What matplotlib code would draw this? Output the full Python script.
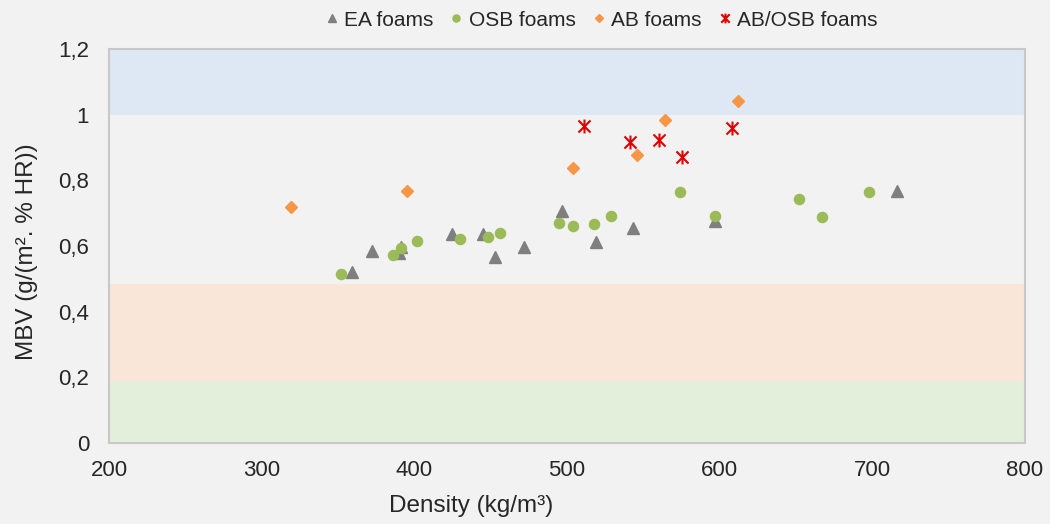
import matplotlib
matplotlib.use("Agg")
import matplotlib.pyplot as plt
from matplotlib.path import Path

# ---- data ----
ea_x = [359, 372, 390, 391, 424.5, 445, 453, 472, 497, 519, 543, 597, 716]
ea_y = [0.521, 0.585, 0.578, 0.598, 0.636, 0.636, 0.565, 0.598, 0.707, 0.611, 0.654, 0.677, 0.769]

osb_x = [352, 386, 391, 402, 430, 448, 456, 495, 504, 518, 529, 574, 597, 652, 667, 698]
osb_y = [0.514, 0.573, 0.593, 0.616, 0.620, 0.628, 0.641, 0.670, 0.661, 0.667, 0.692, 0.765, 0.690, 0.743, 0.687, 0.765]

ab_x = [319, 395, 504, 546, 564, 612]
ab_y = [0.718, 0.769, 0.837, 0.876, 0.983, 1.042]

abosb_x = [511, 541, 560, 575, 608]
abosb_y = [0.965, 0.918, 0.924, 0.872, 0.960]

series_labels = ["EA foams", "OSB foams", "AB foams", "AB/OSB foams"]
x_ticks = [200, 300, 400, 500, 600, 700, 800]
y_ticks = [0, 0.2, 0.4, 0.6, 0.8, 1.0, 1.2]
y_tick_labels = ["0", "0,2", "0,4", "0,6", "0,8", "1", "1,2"]
bands = [(0.0, 0.19, "#e3eedb"), (0.19, 0.485, "#fae5d9"), (1.0, 1.2, "#dde8f4")]

# ---- figure ----
plt.rcParams['font.family'] = ['Liberation Sans', 'DejaVu Sans']
bg = "#f2f2f2"
txt = "#262626"
fig = plt.figure(figsize=(10.5, 5.24), dpi=100, facecolor=bg)
ax = fig.add_axes([109/1050, 1 - 443/524, (1025-109)/1050, (443-49)/524])
ax.set_facecolor(bg)

for lo, hi, c in bands:
    ax.axhspan(lo, hi, color=c, lw=0, zorder=0)

star = Path([(-1, -1), (1, 1), (-1, 1), (1, -1), (0, -1.15), (0, 1.15)],
            [Path.MOVETO, Path.LINETO, Path.MOVETO, Path.LINETO, Path.MOVETO, Path.LINETO])

h1, = ax.plot(ea_x, ea_y, ls='none', marker='^', ms=9, color='#7f7f7f', mec='#7f7f7f', label=series_labels[0], zorder=3)
h2, = ax.plot(osb_x, osb_y, ls='none', marker='o', ms=7.3, color='#9bbb59', mec='#9bbb59', label=series_labels[1], zorder=4)
h3, = ax.plot(ab_x, ab_y, ls='none', marker='D', ms=6.5, color='#f79646', mec='#f79646', label=series_labels[2], zorder=3)
h4, = ax.plot(abosb_x, abosb_y, ls='none', marker=star, ms=10, mfc='none', mec='#e00000', mew=1.5, label=series_labels[3], zorder=3)

ax.set_xlim(200, 800)
ax.set_ylim(0, 1.2)
ax.set_xticks(x_ticks)
ax.set_yticks(y_ticks)
ax.set_yticklabels(y_tick_labels)
ax.tick_params(axis='both', length=0, labelsize=16, colors=txt)
ax.tick_params(axis='y', pad=14.4)
ax.tick_params(axis='x', pad=12.5)

for s in ax.spines.values():
    s.set_color('#c8c8c8')
    s.set_linewidth(1.5)

ax.set_xlabel("Density (kg/m³)", fontsize=17.5, color=txt)
ax.set_ylabel("MBV (g/(m². % HR))", fontsize=17.5, color=txt)
ax.xaxis.set_label_coords((471.5-109)/916, (443-495)/394)
ax.yaxis.set_label_coords((38-109)/916, (443-251.5)/394)

fig.legend(handles=[h1, h2, h3, h4], loc='center', bbox_to_anchor=(602/1050, 1 - 20/524),
           ncol=4, frameon=False, fontsize=15, markerscale=0.7, handletextpad=0.35,
           columnspacing=0.85, handlelength=0.5, labelcolor=txt)

fig.savefig("out.png", dpi=100, facecolor=bg)
